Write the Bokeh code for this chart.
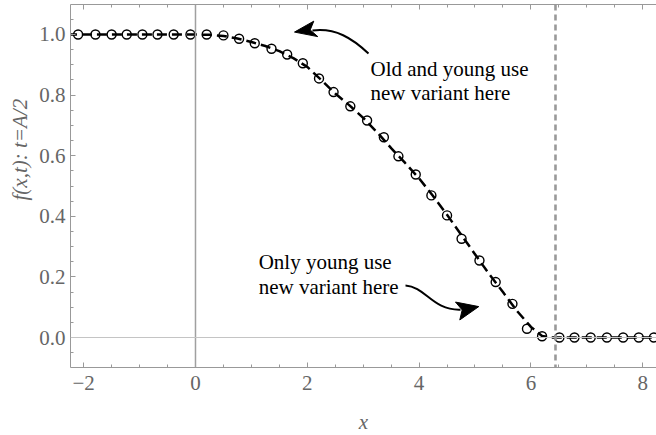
import math
from bokeh.plotting import figure
from bokeh.models import Range1d, LinearAxis, SingleIntervalTicker, Label, Span, PrintfTickFormatter, Title
from bokeh.embed import file_html
from bokeh.resources import INLINE

# simulated points (open circles)
sim_x = [-2.10, -1.79, -1.50, -1.23, -0.95, -0.68, -0.39, -0.09, 0.20, 0.50, 0.78, 1.06,
         1.36, 1.64, 1.92, 2.21, 2.47, 2.77, 3.07, 3.37, 3.63, 3.94, 4.22, 4.50, 4.76,
         5.08, 5.37, 5.67, 5.93, 6.20, 6.51, 6.78, 7.07, 7.36, 7.65, 7.93, 8.20]
sim_y = [1.0, 1.0, 1.0, 1.0, 1.0, 1.0, 1.0, 1.0, 1.0, 0.997, 0.986, 0.971,
         0.953, 0.934, 0.905, 0.855, 0.810, 0.763, 0.716, 0.661, 0.598, 0.538, 0.469, 0.403, 0.326,
         0.254, 0.183, 0.111, 0.029, 0.004, 0.0, 0.0, 0.0, 0.0, 0.0, 0.0, 0.0]

# analytic curve (dashed)
curve_x = [-2.3, 0.0, 0.25, 0.5, 0.75, 1.0, 1.25, 1.5, 1.75, 2.0, 2.25, 2.5, 2.75, 3.0, 3.25,
           3.5, 3.75, 4.0, 4.25, 4.5, 4.75, 5.0, 5.25, 5.5, 5.75, 6.0, 6.2, 6.35, 8.3]
curve_y = [1.0, 1.0, 0.999, 0.995, 0.987, 0.975, 0.962, 0.945, 0.922, 0.893, 0.850, 0.805,
           0.767, 0.725, 0.677, 0.625, 0.576, 0.525, 0.467, 0.405, 0.340, 0.275, 0.210, 0.150,
           0.088, 0.035, 0.005, 0.0, 0.0]

marker_x = 6.44  # vertical dashed reference line

# annotation geometry (data units)
arrow1_bez = dict(x0=3.095, y0=0.937, cx0=2.809, cy0=0.987, cx1=2.504, cy1=1.023, x1=2.093, y1=1.013)
arrow1_head_x = [1.771, 2.116, 2.052, 2.188]
arrow1_head_y = [1.008, 1.044, 1.015, 0.993]
arrow2_bez = dict(x0=3.757, y0=0.172, cx0=4.114, cy0=0.168, cx1=4.240, cy1=0.089, x1=4.741, y1=0.092)
arrow2_head_x = [5.068, 4.651, 4.771, 4.728]
arrow2_head_y = [0.102, 0.117, 0.091, 0.058]

FONT = "Liberation Serif"
TICK_COL = "#666666"
FRAME_COL = "#999999"

p = figure(frame_width=586, frame_height=363,
           x_range=Range1d(-2.236, 8.247), y_range=Range1d(-0.099, 1.099),
           output_backend="svg", toolbar_location=None,
           min_border_left=70, min_border_right=0, min_border_top=4, min_border_bottom=68)
p.grid.visible = False
p.outline_line_color = None
p.background_fill_color = "white"

def style_axis(ax, labels=True):
    ax.axis_line_color = FRAME_COL
    ax.axis_line_width = 1
    ax.major_tick_in = 5
    ax.major_tick_out = 0
    ax.minor_tick_in = 3
    ax.minor_tick_out = 0
    ax.major_tick_line_color = FRAME_COL
    ax.minor_tick_line_color = FRAME_COL
    ax.major_label_text_font = FONT
    ax.major_label_text_color = TICK_COL
    ax.major_label_text_font_size = "21px" if labels else "0px"

p.xaxis.ticker = SingleIntervalTicker(interval=2, num_minor_ticks=4)
p.yaxis.ticker = SingleIntervalTicker(interval=0.2, num_minor_ticks=4)
p.yaxis.formatter = PrintfTickFormatter(format="%.1f")
p.xaxis.major_label_overrides = {-2: "\u22122"}
style_axis(p.xaxis[0])
style_axis(p.yaxis[0])
p.xaxis.major_label_standoff = 8
p.yaxis.major_label_standoff = 5
p.xaxis.axis_label = "x"
p.xaxis.axis_label_text_font = FONT
p.xaxis.axis_label_text_font_style = "italic"
p.xaxis.axis_label_text_font_size = "21px"
p.xaxis.axis_label_text_color = TICK_COL
p.xaxis.axis_label_standoff = 17

top = LinearAxis(ticker=SingleIntervalTicker(interval=2, num_minor_ticks=4), major_label_standoff=0)
style_axis(top, labels=False)
p.add_layout(top, "above")

ytitle = Title(text="f(x,t): t=A/2", align="left", offset=167, text_font=FONT,
               text_font_style="italic", text_font_size="21px", text_color=TICK_COL,
               standoff=9)
p.add_layout(ytitle, "left")

p.add_layout(Span(location=0, dimension="height", line_color="#a0a0a0", line_width=1.5))
p.add_layout(Span(location=0, dimension="width", line_color="#c4c4c4", line_width=1))
p.add_layout(Span(location=marker_x, dimension="height", line_color="#999999",
                  line_width=2.6, line_dash="6 4"))

p.line(curve_x, curve_y, line_color="black", line_width=2.5, line_dash="10 5")
p.scatter(sim_x, sim_y, marker="circle", size=9, fill_color=None,
          line_color="black", line_width=1.4)

p.bezier(x0=[arrow1_bez["x0"]], y0=[arrow1_bez["y0"]], x1=[arrow1_bez["x1"]], y1=[arrow1_bez["y1"]],
         cx0=[arrow1_bez["cx0"]], cy0=[arrow1_bez["cy0"]], cx1=[arrow1_bez["cx1"]], cy1=[arrow1_bez["cy1"]],
         line_color="black", line_width=2)
p.patch(arrow1_head_x, arrow1_head_y, fill_color="black", line_color="black", line_width=1)
p.bezier(x0=[arrow2_bez["x0"]], y0=[arrow2_bez["y0"]], x1=[arrow2_bez["x1"]], y1=[arrow2_bez["y1"]],
         cx0=[arrow2_bez["cx0"]], cy0=[arrow2_bez["cy0"]], cx1=[arrow2_bez["cx1"]], cy1=[arrow2_bez["cy1"]],
         line_color="black", line_width=2)
p.patch(arrow2_head_x, arrow2_head_y, fill_color="black", line_color="black", line_width=1)

def txt(x, y, s, **kw):
    p.add_layout(Label(x=x, y=y, text=s, text_font=FONT, text_font_size="21px",
                       text_color="black", text_baseline="alphabetic", text_align="left", **kw))

txt(3.13, 0.887, "Old and young use")
txt(3.13, 0.808, "new variant here")
txt(1.13, 0.2485, "Only young use")
txt(1.13, 0.166, "new variant here")

open("out.html", "w").write(file_html(p, INLINE))
